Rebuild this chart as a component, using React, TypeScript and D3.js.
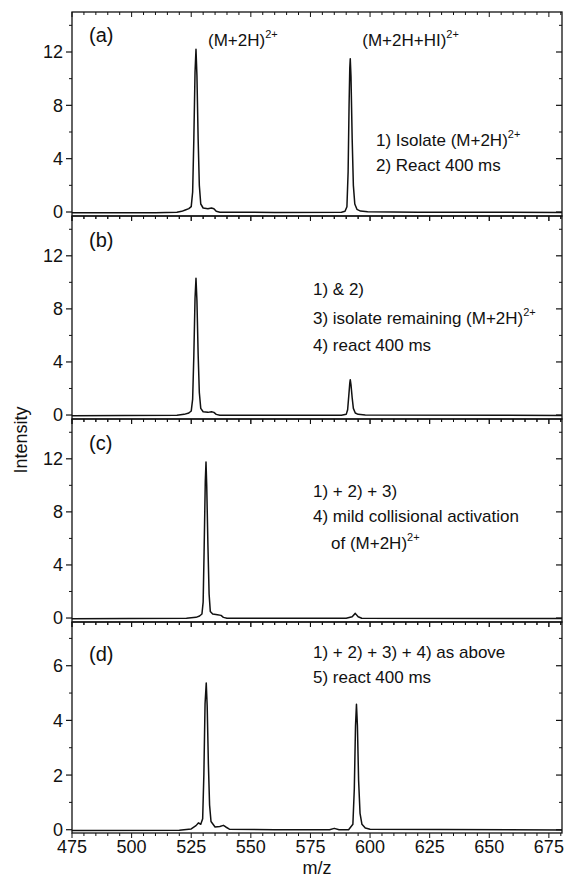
import React from "react";
import * as d3 from "d3";

// ---------- data ----------
const MZ_TICKS = [475, 500, 525, 550, 575, 600, 625, 650, 675];
const MZ_DOMAIN: [number, number] = [475, 680.5];
const PANEL_IDS = ["(a)", "(b)", "(c)", "(d)"];
const Y_TICKS_ABC = [0, 4, 8, 12];
const Y_MINOR_ABC = [2, 6, 10, 14];
const Y_TICKS_D = [0, 2, 4, 6];
const Y_MINOR_D = [1, 3, 5, 7];

const SPEC_A: [number, number][] = [
  [475, -0.05], [510, -0.05], [519, -0.02], [521, 0.05], [522.5, 0.15], [524, 0.25], [525, 0.4],
  [525.6, 1.5], [526.1, 5.5], [526.6, 10.5], [527.0, 12.2], [527.4, 10.2], [527.9, 5.5], [528.4, 2],
  [529, 0.6], [530, 0.3], [532, 0.25], [533.5, 0.3], [534.5, 0.25], [535.5, 0.05], [537, -0.02],
  [560, -0.03], [588, -0.02], [589.5, 0.05], [590.3, 0.4], [590.8, 3], [591.2, 8], [591.5, 10.8],
  [591.7, 11.5], [592, 10.2], [592.5, 5.5], [593, 2], [593.6, 0.6], [594.5, 0.2], [596, 0.07],
  [599, 0.02], [620, -0.02], [680.5, -0.03],
];
const SPEC_B: [number, number][] = [
  [475, -0.05], [519, -0.02], [522, 0.05], [524, 0.15], [525, 0.3], [525.6, 1.2], [526.1, 4.5],
  [526.6, 8.8], [527.0, 10.3], [527.4, 8.6], [527.9, 4.6], [528.4, 1.7], [529, 0.5], [530, 0.25],
  [532, 0.2], [533.5, 0.25], [534.5, 0.2], [535.5, 0.05], [537, -0.02], [588, -0.02], [590, 0.05],
  [590.6, 0.4], [591.1, 1.5], [591.5, 2.4], [591.7, 2.66], [592, 2.3], [592.5, 1.3], [593, 0.5],
  [593.8, 0.15], [595, 0.05], [598, 0], [680.5, -0.03],
];
const SPEC_C: [number, number][] = [
  [475, -0.05], [523, -0.02], [527, 0.05], [528.5, 0.15], [529.5, 0.3], [530, 1.2], [530.4, 5],
  [530.9, 10.3], [531.2, 11.75], [531.5, 10], [532, 5.5], [532.5, 1.8], [533, 0.5], [534, 0.3],
  [536, 0.25], [537.5, 0.2], [538.5, 0.05], [540, -0.02], [590, -0.02], [592.5, 0.1], [593.8, 0.35],
  [595, 0.1], [596.5, -0.02], [680.5, -0.03],
];
const SPEC_D: [number, number][] = [
  [475, -0.03], [520, -0.02], [525, 0.03], [527, 0.15], [528, 0.25], [529, 0.2], [529.8, 0.4],
  [530.3, 2], [530.8, 4.6], [531.3, 5.37], [531.7, 4.5], [532.2, 2.4], [532.7, 0.9], [533.3, 0.3],
  [535, 0.1], [537, 0.12], [538.5, 0.16], [539.5, 0.1], [541, 0.02], [560, 0], [583, 0], [585, 0.05],
  [587, 0], [591, 0], [592.8, 0.2], [593.4, 1.5], [593.9, 3.8], [594.3, 4.59], [594.7, 3.8],
  [595.2, 1.8], [595.8, 0.6], [596.6, 0.2], [598, 0.06], [600, 0.02], [680.5, -0.01],
];

// annotation lines: [text, superscript]
const NOTES_A: [string, string][] = [["1) Isolate (M+2H)", "2+"], ["2) React 400 ms", ""]];
const NOTES_B: [string, string][] = [["1) & 2)", ""], ["3) isolate remaining (M+2H)", "2+"], ["4) react 400 ms", ""]];
const NOTES_C: [string, string][] = [["1) + 2) + 3)", ""], ["4) mild collisional activation", ""], ["of (M+2H)", "2+"]];
const NOTES_D: [string, string][] = [["1) + 2) + 3) + 4) as above", ""], ["5) react 400 ms", ""]];
const PEAK_LABELS: [string, string, number][] = [["(M+2H)", "2+", 527], ["(M+2H+HI)", "2+", 591.7]];

// ---------- layout ----------
const W = 567, H = 880;
const LEFT = 72, RIGHT = 562;
const FONT = "'Liberation Sans', Arial, Helvetica, sans-serif";
const NOTE_SIZE = 17;

type Panel = {
  id: string; idY: number; data: [number, number][]; top: number; bottom: number;
  yDom: [number, number]; major: number[]; minor: number[];
  notes: [string, string][]; notesX: number[]; notesY: number[];
};

const PANELS: Panel[] = [
  { id: PANEL_IDS[0], idY: 42, data: SPEC_A, top: 12, bottom: 216, yDom: [-0.3, 15], major: Y_TICKS_ABC, minor: Y_MINOR_ABC,
    notes: NOTES_A, notesX: [376, 376], notesY: [146, 171] },
  { id: PANEL_IDS[1], idY: 247, data: SPEC_B, top: 216, bottom: 419, yDom: [-0.3, 15], major: Y_TICKS_ABC, minor: Y_MINOR_ABC,
    notes: NOTES_B, notesX: [313, 313, 313], notesY: [295, 324, 351] },
  { id: PANEL_IDS[2], idY: 450, data: SPEC_C, top: 419, bottom: 622, yDom: [-0.3, 15], major: Y_TICKS_ABC, minor: Y_MINOR_ABC,
    notes: NOTES_C, notesX: [313, 313, 331], notesY: [497, 522, 549] },
  { id: PANEL_IDS[3], idY: 661, data: SPEC_D, top: 622, bottom: 833, yDom: [-0.12, 7.6], major: Y_TICKS_D, minor: Y_MINOR_D,
    notes: NOTES_D, notesX: [313, 313], notesY: [658, 683] },
];

const x = d3.scaleLinear().domain(MZ_DOMAIN).range([LEFT, RIGHT]);
const xMinor = d3.range(475, 681, 5);

function SupText({ x0, y0, text, sup, size, supSize }: { x0: number; y0: number; text: string; sup: string; size: number; supSize: number }) {
  return (
    <text x={x0} y={y0} fontSize={size} fontFamily={FONT} fill="#111">
      {text}
      {sup ? <tspan fontSize={supSize} dy={-8}>{sup}</tspan> : null}
    </text>
  );
}

function PanelView({ p, last }: { p: Panel; last: boolean }) {
  const y = d3.scaleLinear().domain(p.yDom).range([p.bottom, p.top]);
  const line = d3.line<[number, number]>().x((d) => x(d[0])).y((d) => y(d[1]));
  const path = line(p.data) || "";
  const ticks: React.ReactNode[] = [];
  xMinor.forEach((v) => {
    const major = MZ_TICKS.includes(v);
    const len = major ? 5 : 3;
    ticks.push(<line key={"t" + v} x1={x(v)} x2={x(v)} y1={p.top} y2={p.top + len} stroke="#111" strokeWidth={1} />);
    ticks.push(<line key={"b" + v} x1={x(v)} x2={x(v)} y1={p.bottom} y2={p.bottom + len} stroke="#111" strokeWidth={1} />);
  });
  p.major.forEach((v) => {
    ticks.push(<line key={"ly" + v} x1={LEFT - 6} x2={LEFT} y1={y(v)} y2={y(v)} stroke="#111" strokeWidth={1.2} />);
    ticks.push(<line key={"ry" + v} x1={RIGHT - 6} x2={RIGHT} y1={y(v)} y2={y(v)} stroke="#111" strokeWidth={1.2} />);
    ticks.push(
      <text key={"yl" + v} x={LEFT - 9} y={y(v)} dy="0.36em" textAnchor="end" fontSize={18} fontFamily={FONT} fill="#111">{v}</text>
    );
  });
  p.minor.forEach((v) => {
    if (y(v) < p.top) return;
    ticks.push(<line key={"lm" + v} x1={LEFT - 3} x2={LEFT} y1={y(v)} y2={y(v)} stroke="#111" strokeWidth={1} />);
    ticks.push(<line key={"rm" + v} x1={RIGHT - 3} x2={RIGHT} y1={y(v)} y2={y(v)} stroke="#111" strokeWidth={1} />);
  });
  return (
    <g>
      <path d={path} fill="none" stroke="#111" strokeWidth={1.5} strokeLinejoin="round" />
      <rect x={LEFT} y={p.top} width={RIGHT - LEFT} height={p.bottom - p.top} fill="none" stroke="#111" strokeWidth={1.3} />
      {ticks}
      <text x={89} y={p.idY} fontSize={20} fontFamily={FONT} fill="#111">{p.id}</text>
      {p.notes.map((n, i) => (
        <SupText key={i} x0={p.notesX[i]} y0={p.notesY[i]} text={n[0]} sup={n[1]} size={NOTE_SIZE} supSize={11} />
      ))}
      {last
        ? MZ_TICKS.map((v) => (
            <text key={"xl" + v} x={x(v)} y={p.bottom + 20} textAnchor="middle" fontSize={18} fontFamily={FONT} fill="#111">{v}</text>
          ))
        : null}
    </g>
  );
}

export default function App() {
  return (
    <svg width={W} height={H} style={{ position: "absolute", left: 0, top: 0, background: "#fff" }}>
      <rect x={0} y={0} width={W} height={H} fill="#fff" />
      {PANELS.map((p, i) => (
        <PanelView key={p.id} p={p} last={i === PANELS.length - 1} />
      ))}
      {PEAK_LABELS.map((l, i) => (
        <SupText key={i} x0={x(l[2]) + 12} y0={46} text={l[0]} sup={l[1]} size={NOTE_SIZE} supSize={11} />
      ))}
      <text transform="translate(27,440) rotate(-90)" textAnchor="middle" fontSize={18} fontFamily={FONT} fill="#111">Intensity</text>
      <text x={317} y={874} textAnchor="middle" fontSize={18} fontFamily={FONT} fill="#111">m/z</text>
    </svg>
  );
}
